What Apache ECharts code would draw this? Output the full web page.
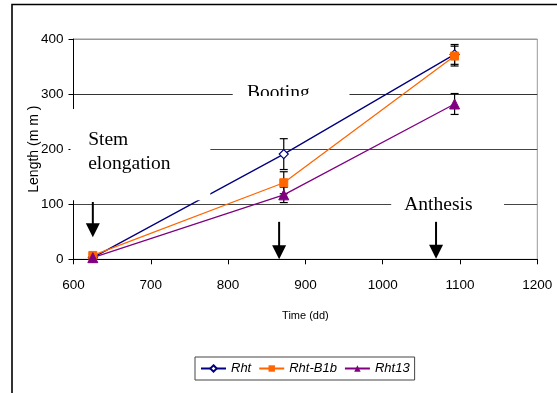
<!DOCTYPE html>
<html>
<head>
<meta charset="utf-8">
<script src="https://cdn.jsdelivr.net/npm/echarts@6/dist/echarts.min.js"></script>
<style>
html,body{margin:0;padding:0;background:#fff;}
#chart{width:557px;height:393px;}
</style>
</head>
<body>
<div id="chart"></div>
<script>
// ---- data ----
var times = [625, 872, 1093];
var seriesNames = ['Rht', 'Rht-B1b', 'Rht13'];
var rht = [3, 191, 372];
var rhtErr = [2, 28, 18];
var rhtB1b = [7, 139, 369];
var rhtB1bErr = [2, 20, 18];
var rht13 = [3, 117, 282];
var rht13Err = [2, 14, 19];
var xTicks = [600, 700, 800, 900, 1000, 1100, 1200];
var yTicks = [0, 100, 200, 300, 400];
var stageLabels = ['Stem\nelongation', 'Booting', 'Anthesis'];
var arrowTimes = [625, 866, 1069];

var SANS = "'Liberation Sans Narrow','Arial Narrow','Liberation Sans',Arial,sans-serif";
var SERIF = "'Liberation Serif','Times New Roman',serif";

function pairs(v) { return times.map(function (t, i) { return [t, v[i]]; }); }
function errData(v, e) { return times.map(function (t, i) { return [t, v[i] - e[i], v[i] + e[i]]; }); }

function errSeries(v, e) {
  return {
    type: 'custom',
    z: 1,
    silent: true,
    data: errData(v, e),
    encode: { x: 0, y: [1, 2] },
    renderItem: function (params, api) {
      var x = api.value(0);
      var lo = api.coord([x, api.value(1)]);
      var hi = api.coord([x, api.value(2)]);
      var w = 4;
      var st = { stroke: '#000', lineWidth: 1.2 };
      return {
        type: 'group',
        children: [
          { type: 'line', shape: { x1: lo[0], y1: lo[1], x2: hi[0], y2: hi[1] }, style: st },
          { type: 'line', shape: { x1: lo[0] - w, y1: lo[1], x2: lo[0] + w, y2: lo[1] }, style: st },
          { type: 'line', shape: { x1: hi[0] - w, y1: hi[1], x2: hi[0] + w, y2: hi[1] }, style: st }
        ]
      };
    }
  };
}

var chart = echarts.init(document.getElementById('chart'), null, { renderer: 'canvas' });

var option = {
  animation: false,
  backgroundColor: '#fff',
  grid: {
    left: 73.5, right: 19.7, top: 39, bottom: 133.7,
    show: true, borderColor: '#999', borderWidth: 1, backgroundColor: 'transparent'
  },
  xAxis: {
    type: 'value', min: xTicks[0], max: xTicks[xTicks.length - 1], interval: 100,
    name: 'Time (dd)', nameLocation: 'middle', nameGap: 51, nameMoveOverlap: false,
    nameTextStyle: { fontFamily: SANS, fontSize: 11, color: '#000', verticalAlign: 'top' },
    axisLine: { show: true, lineStyle: { color: '#000', width: 1 } },
    axisTick: { show: true, inside: false, length: 5, lineStyle: { color: '#000' } },
    axisLabel: { fontFamily: SANS, fontSize: 13.5, color: '#000', margin: 19, formatter: function (v) { return String(v); } },
    splitLine: { show: false }
  },
  yAxis: {
    type: 'value', min: yTicks[0], max: yTicks[yTicks.length - 1], interval: 100,
    name: 'Length (m m )', nameLocation: 'middle', nameGap: 32, nameRotate: 90, nameMoveOverlap: false,
    nameTextStyle: { fontFamily: SANS, fontSize: 14, color: '#000' },
    axisLine: { show: true, lineStyle: { color: '#000', width: 1 } },
    axisTick: { show: true, inside: false, length: 5, lineStyle: { color: '#000' } },
    axisLabel: { fontFamily: SANS, fontSize: 13.5, color: '#000', margin: 10, formatter: function (v) { return String(v); } },
    splitLine: { show: true, lineStyle: { color: ['#000', '#444', '#444', '#333', '#999'], width: 1 } }
  },
  legend: {
    left: 195, top: 357, orient: 'horizontal',
    itemWidth: 25, itemHeight: 8, itemGap: 7,
    padding: [5, 5, 5, 5],
    borderColor: '#444', borderWidth: 1, backgroundColor: '#fff',
    textStyle: { fontFamily: SANS, fontSize: 13, fontStyle: 'italic', color: '#000' },
    data: seriesNames
  },
  series: [
    errSeries(rht, rhtErr),
    errSeries(rhtB1b, rhtB1bErr),
    errSeries(rht13, rht13Err),
    {
      name: seriesNames[0], type: 'line', z: 3, data: pairs(rht),
      symbol: 'diamond', symbolSize: 9, showAllSymbol: true,
      lineStyle: { color: '#000080', width: 1.3 },
      itemStyle: { color: '#fff', borderColor: '#000080', borderWidth: 1.2 }
    },
    {
      name: seriesNames[1], type: 'line', z: 3, data: pairs(rhtB1b),
      symbol: 'rect', symbolSize: 8,
      lineStyle: { color: '#FF6600', width: 1.3 },
      itemStyle: { color: '#FF6600', borderColor: '#FF6600' }
    },
    {
      name: seriesNames[2], type: 'line', z: 3, data: pairs(rht13),
      symbol: 'triangle', symbolSize: 10,
      lineStyle: { color: '#800080', width: 1.3 },
      itemStyle: { color: '#800080', borderColor: '#800080' }
    }
  ]
};
chart.setOption(option);

function px(x, y) { return chart.convertToPixel({ gridIndex: 0 }, [x, y]); }

var g = [];
// outer frame
g.push({ type: 'polyline', z: 200, shape: { points: [[12, 400], [12, 4.5], [600, 4.5]] }, style: { stroke: '#000', lineWidth: 1.6, fill: null } });

// Stem elongation box
var s1 = px(598, 273), s2 = px(777, 107);
g.push({ type: 'rect', z: 100, shape: { x: s1[0] - 1.5, y: s1[1], width: s2[0] - s1[0] + 1.5, height: s2[1] - s1[1] }, style: { fill: '#fff' } });
var st = px(619, 238);
g.push({ type: 'text', z: 110, x: st[0], y: st[1], style: { text: stageLabels[0], font: '19.5px ' + SERIF, fill: '#000', lineHeight: 24, align: 'left', verticalAlign: 'top' } });

// Booting box (text partly hidden at its lower edge, as in the reference)
var b1 = px(806, 327), b2 = px(957, 300);
g.push({ type: 'rect', z: 100, shape: { x: b1[0], y: b1[1], width: b2[0] - b1[0], height: b2[1] - b1[1] + 4 }, style: { fill: '#fff' } });
var bt = px(865, 300);
g.push({ type: 'text', z: 110, x: bt[0], y: bt[1] + 9, style: { text: stageLabels[1], font: '19.5px ' + SERIF, fill: '#000', align: 'center', verticalAlign: 'bottom' } });
g.push({ type: 'rect', z: 120, shape: { x: b1[0], y: bt[1] + 2, width: b2[0] - b1[0], height: 10 }, style: { fill: '#fff' } });

// Anthesis box
var a1 = px(1011, 115), a2 = px(1157, 84);
g.push({ type: 'rect', z: 100, shape: { x: a1[0], y: a1[1], width: a2[0] - a1[0], height: a2[1] - a1[1] }, style: { fill: '#fff' } });
var at = px(1072, 100);
g.push({ type: 'text', z: 110, x: at[0], y: at[1] + 1, style: { text: stageLabels[2], font: '19.5px ' + SERIF, fill: '#000', align: 'center', verticalAlign: 'middle' } });

// arrows
var arrowTops = [104, 68, 68];
var arrowTips = [40, 0, 1];
arrowTimes.forEach(function (t, i) {
  var top = px(t, arrowTops[i]), tip = px(t, arrowTips[i]);
  var hh = 14, hw = 7;
  g.push({ type: 'line', z: 130, shape: { x1: top[0], y1: top[1], x2: tip[0], y2: tip[1] - hh + 2 }, style: { stroke: '#000', lineWidth: 2 } });
  g.push({ type: 'polygon', z: 130, shape: { points: [[tip[0] - hw, tip[1] - hh], [tip[0] + hw, tip[1] - hh], [tip[0], tip[1]]] }, style: { fill: '#000' } });
});

chart.setOption({ graphic: { elements: g } });
</script>
</body>
</html>
